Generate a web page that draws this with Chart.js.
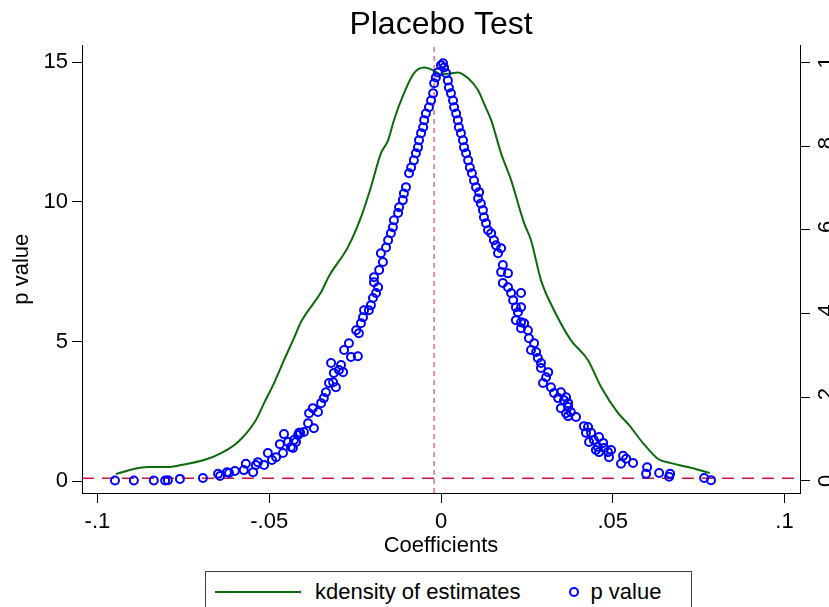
<!DOCTYPE html>
<html>
<head>
<meta charset="utf-8">
<title>Placebo Test</title>
<script src="https://cdn.jsdelivr.net/npm/chart.js@4.4.0/dist/chart.umd.min.js"></script>
<style>
  html, body { margin: 0; padding: 0; background: #fff; overflow: hidden; }
  #wrap { position: relative; width: 829px; height: 607px; overflow: hidden; }
  #legend {
    position: absolute; left: 205px; top: 571px; width: 485px; height: 60px;
    border: 1px solid #404040; background: #fff;
    font: 22px "Liberation Sans", Arial, sans-serif; color: #000;
  }
  #legend .row { display: flex; align-items: center; height: 40px; white-space: nowrap; }
</style>
</head>
<body>
<div id="wrap">
  <canvas id="chart" width="829" height="607"></canvas>
  <div id="legend"><div class="row" id="legendRow"></div></div>
</div>
<script>
// kdensity of the placebo estimates (left axis)
const kdX = [-0.0946, -0.0894, -0.0853, -0.0795, -0.0757, -0.0690, -0.0640, -0.0591, -0.0539, -0.0515,
  -0.0486, -0.0457, -0.0428, -0.0408, -0.0349, -0.0326, -0.0271, -0.0233, -0.0204, -0.0175,
  -0.0154, -0.0137, -0.0108, -0.0079, -0.0049, -0.0023, 0.0000, 0.0029, 0.0049, 0.0079,
  0.0108, 0.0125, 0.0146, 0.0175, 0.0204, 0.0242, 0.0262, 0.0291, 0.0329, 0.0378,
  0.0428, 0.0466, 0.0515, 0.0547, 0.0588, 0.0632, 0.0670, 0.0719, 0.0783];
const kdY = [0.25, 0.43, 0.50, 0.50, 0.57, 0.75, 1.00, 1.40, 2.18, 2.79,
  3.51, 4.33, 5.12, 5.69, 6.77, 7.34, 8.38, 9.45, 10.53, 11.74,
  12.21, 12.93, 13.89, 14.61, 14.82, 14.72, 14.57, 14.61, 14.64, 14.43,
  14.00, 13.53, 12.93, 11.74, 10.78, 9.24, 8.63, 7.20, 6.12, 5.05,
  4.33, 3.37, 2.44, 2.01, 1.36, 0.79, 0.64, 0.50, 0.29];

// p values of the placebo coefficients (right axis)
const coef = [-0.0949, -0.0894, -0.0836, -0.0803, -0.0795, -0.0760, -0.0693, -0.0649, -0.0643, -0.0623,
  -0.0617, -0.0600, -0.0574, -0.0568, -0.0547, -0.0539, -0.0533, -0.0515, -0.0504, -0.0492,
  -0.0480, -0.0469, -0.0460, -0.0457, -0.0445, -0.0437, -0.0428, -0.0416, -0.0410, -0.0431,
  -0.0422, -0.0413, -0.0399, -0.0387, -0.0370, -0.0384, -0.0373, -0.0358, -0.0349, -0.0341,
  -0.0335, -0.0326, -0.0314, -0.0306, -0.0312, -0.0320, -0.0297, -0.0285, -0.0291, -0.0282,
  -0.0268, -0.0262, -0.0242, -0.0247, -0.0239, -0.0233, -0.0227, -0.0224, -0.0210, -0.0204,
  -0.0198, -0.0189, -0.0183, -0.0195, -0.0195, -0.0180, -0.0169, -0.0175, -0.0160, -0.0154,
  -0.0146, -0.0140, -0.0137, -0.0125, -0.0122, -0.0111, -0.0108, -0.0102, -0.0093, -0.0087,
  -0.0079, -0.0073, -0.0067, -0.0064, -0.0058, -0.0052, -0.0049, -0.0044, -0.0035, -0.0029,
  -0.0023, -0.0020, -0.0015, -0.0009, 0.0000, 0.0006, 0.0009, 0.0015, 0.0020, 0.0023,
  0.0029, 0.0035, 0.0038, 0.0044, 0.0049, 0.0052, 0.0058, 0.0064, 0.0067, 0.0073,
  0.0079, 0.0084, 0.0090, 0.0096, 0.0102, 0.0111, 0.0108, 0.0116, 0.0122, 0.0125,
  0.0131, 0.0137, 0.0146, 0.0154, 0.0160, 0.0175, 0.0166, 0.0180, 0.0175, 0.0195,
  0.0180, 0.0195, 0.0204, 0.0233, 0.0210, 0.0218, 0.0233, 0.0224, 0.0218, 0.0233,
  0.0242, 0.0233, 0.0253, 0.0256, 0.0271, 0.0262, 0.0277, 0.0282, 0.0291, 0.0291,
  0.0312, 0.0306, 0.0297, 0.0320, 0.0329, 0.0349, 0.0341, 0.0358, 0.0349, 0.0370,
  0.0378, 0.0364, 0.0393, 0.0364, 0.0370, 0.0370, 0.0416, 0.0428, 0.0422, 0.0437,
  0.0431, 0.0445, 0.0460, 0.0457, 0.0472, 0.0475, 0.0460, 0.0486, 0.0489, 0.0495,
  0.0451, 0.0530, 0.0539, 0.0524, 0.0559, 0.0600, 0.0597, 0.0635, 0.0667, 0.0664,
  0.0766, 0.0786];
const pval = [0.001, 0.001, 0.001, 0.001, 0.002, 0.005, 0.007, 0.017, 0.012, 0.021,
  0.019, 0.024, 0.026, 0.041, 0.021, 0.038, 0.045, 0.038, 0.067, 0.050,
  0.057, 0.088, 0.067, 0.112, 0.093, 0.081, 0.098, 0.110, 0.115, 0.079,
  0.093, 0.115, 0.117, 0.138, 0.126, 0.162, 0.174, 0.165, 0.186, 0.198,
  0.212, 0.234, 0.236, 0.224, 0.258, 0.282, 0.265, 0.260, 0.277, 0.313,
  0.329, 0.296, 0.298, 0.360, 0.353, 0.377, 0.391, 0.408, 0.408, 0.420,
  0.437, 0.449, 0.463, 0.475, 0.487, 0.504, 0.523, 0.544, 0.558, 0.575,
  0.592, 0.606, 0.623, 0.640, 0.654, 0.671, 0.687, 0.702, 0.735, 0.749,
  0.766, 0.783, 0.797, 0.814, 0.831, 0.845, 0.862, 0.878, 0.893, 0.909,
  0.926, 0.950, 0.964, 0.976, 0.993, 0.998, 0.988, 0.974, 0.957, 0.940,
  0.926, 0.909, 0.893, 0.878, 0.862, 0.845, 0.831, 0.814, 0.797, 0.783,
  0.766, 0.749, 0.735, 0.718, 0.702, 0.690, 0.675, 0.663, 0.647, 0.630,
  0.616, 0.599, 0.592, 0.575, 0.563, 0.556, 0.544, 0.516, 0.499, 0.496,
  0.473, 0.463, 0.449, 0.449, 0.432, 0.415, 0.415, 0.403, 0.384, 0.379,
  0.377, 0.365, 0.360, 0.341, 0.329, 0.313, 0.308, 0.294, 0.282, 0.270,
  0.260, 0.248, 0.234, 0.224, 0.210, 0.212, 0.198, 0.193, 0.174, 0.177,
  0.165, 0.162, 0.153, 0.200, 0.186, 0.155, 0.131, 0.129, 0.115, 0.115,
  0.093, 0.098, 0.105, 0.081, 0.091, 0.079, 0.069, 0.069, 0.057, 0.074,
  0.074, 0.060, 0.053, 0.041, 0.043, 0.033, 0.017, 0.019, 0.017, 0.010,
  0.007, 0.002];

// reference lines
const refCoef = -0.002;   // vertical dashed line
const refLevel = 0.1;     // horizontal dashed line (left axis units)

// axes
const xMin = -0.1045, xMax = 0.1045;
const yMin = -0.43, yMax = 15.61;
const pMin = -0.0287, pMax = 1.0406;
const xTickValues = [-0.1, -0.05, 0, 0.05, 0.1];
const xTickLabels = ['-.1', '-.05', '0', '.05', '.1'];
const yTickValues = [0, 5, 10, 15];
const yTickLabels = ['0', '5', '10', '15'];
const pTickValues = [0, 0.2, 0.4, 0.6, 0.8, 1];
const pTickLabels = ['0', '.2', '.4', '.6', '.8', '1'];

Chart.defaults.font.family = '"Liberation Sans", Arial, sans-serif';
Chart.defaults.font.size = 22;
Chart.defaults.color = '#000';

const axisGrid = { drawOnChartArea: false, drawTicks: true, tickLength: 10, color: '#000', tickColor: '#000', lineWidth: 1 };
const axisBorder = { display: true, color: '#000', width: 1 };

const chart = new Chart(document.getElementById('chart'), {
  type: 'scatter',
  data: {
    datasets: [
      {
        type: 'scatter',
        label: 'p value',
        data: coef.map((x, i) => ({ x: x, y: pval[i] })),
        yAxisID: 'y1',
        borderColor: '#0000ff',
        backgroundColor: 'rgba(0,0,0,0)',
        pointRadius: 4,
        borderWidth: 2,
        order: 0
      },
      {
        type: 'line',
        label: 'kdensity of estimates',
        data: kdX.map((x, i) => ({ x: x, y: kdY[i] })),
        yAxisID: 'y',
        borderColor: '#0b6b0b',
        borderWidth: 2,
        pointRadius: 0,
        cubicInterpolationMode: 'monotone',
        fill: false,
        order: 1
      },
      {
        type: 'line',
        label: 'yline',
        data: [{ x: xMin, y: refLevel }, { x: xMax, y: refLevel }],
        yAxisID: 'y',
        borderColor: '#cc1040',
        borderDash: [12, 8],
        borderWidth: 1.5,
        pointRadius: 0,
        order: 2
      },
      {
        type: 'line',
        label: 'xline',
        data: [{ x: refCoef, y: yMin }, { x: refCoef, y: yMax }],
        yAxisID: 'y',
        borderColor: '#d9708f',
        borderDash: [5, 4],
        borderWidth: 1.5,
        pointRadius: 0,
        order: 3
      }
    ]
  },
  options: {
    responsive: false,
    animation: false,
    layout: { padding: { top: 0, left: 0, right: 0, bottom: 44 } },
    plugins: {
      legend: { display: false },
      tooltip: { enabled: false },
      title: {
        display: true,
        text: 'Placebo Test',
        fullSize: false,
        color: '#000',
        font: { size: 32, weight: 'normal' },
        padding: { top: 6, bottom: 1 }
      }
    },
    scales: {
      x: {
        type: 'linear', position: 'bottom', min: xMin, max: xMax,
        grid: axisGrid, border: axisBorder,
        ticks: { padding: 6, maxRotation: 0, autoSkip: false, callback: (v, i) => xTickLabels[i] },
        afterBuildTicks: s => { s.ticks = xTickValues.map(v => ({ value: v })); },
        title: { display: true, text: 'Coefficients', padding: { top: 0, bottom: 4 } },
        afterFit: s => { s.height = 70; }
      },
      y: {
        type: 'linear', position: 'left', min: yMin, max: yMax,
        grid: axisGrid, border: axisBorder,
        ticks: { padding: 4, autoSkip: false, callback: (v, i) => yTickLabels[i] },
        afterBuildTicks: s => { s.ticks = yTickValues.map(v => ({ value: v })); },
        title: { display: true, text: 'p value', padding: { top: 9, bottom: 0 } },
        afterFit: s => { s.width = 82; }
      },
      y1: {
        type: 'linear', position: 'right', min: pMin, max: pMax,
        grid: axisGrid, border: axisBorder,
        ticks: { padding: 8, minRotation: 90, maxRotation: 90, crossAlign: 'center', autoSkip: false,
                 callback: (v, i) => pTickLabels[i] },
        afterBuildTicks: s => { s.ticks = pTickValues.map(v => ({ value: v })); },
        afterFit: s => { s.width = 29; }
      }
    }
  }
});

// html legend, built from the two data series
const row = document.getElementById('legendRow');
const kd = chart.data.datasets[1], pv = chart.data.datasets[0];
row.innerHTML =
  '<span style="margin-left:9px;width:86px;height:2px;background:' + kd.borderColor + '"></span>' +
  '<span style="margin-left:14px">' + kd.label + '</span>' +
  '<span style="margin-left:49px;width:6px;height:6px;border:2px solid ' + pv.borderColor + ';border-radius:50%"></span>' +
  '<span style="margin-left:11px">' + pv.label + '</span>';
</script>
</body>
</html>
